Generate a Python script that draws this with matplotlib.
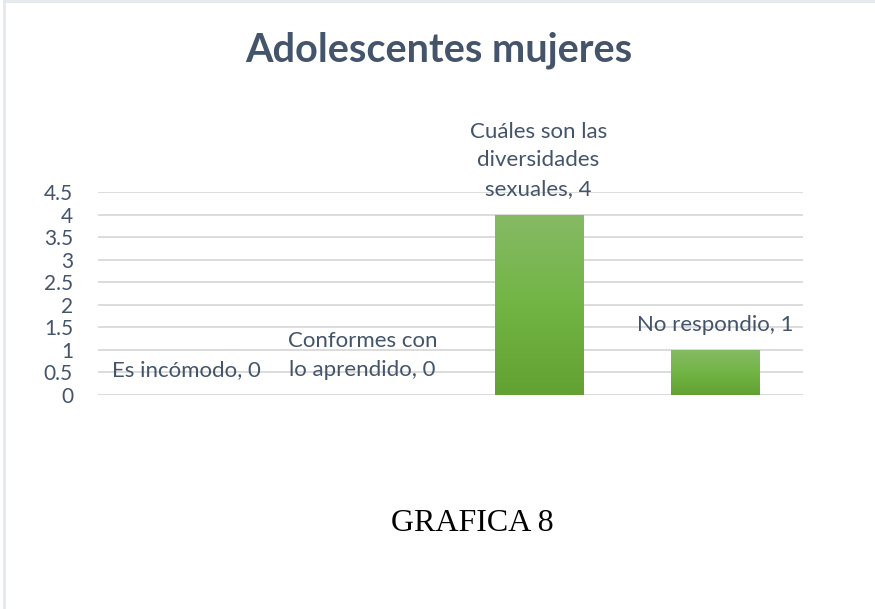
import numpy as np
import matplotlib
matplotlib.use('Agg')
import matplotlib.pyplot as plt
from matplotlib.lines import Line2D

TITLE = 'Adolescentes mujeres'
CAPTION = 'GRAFICA 8'
categories = ['Es incómodo', 'Conformes con\nlo aprendido', 'Cuáles son las\ndiversidades\nsexuales', 'No respondio']
values = [0, 0, 4, 1]
yticks = [0, 0.5, 1, 1.5, 2, 2.5, 3, 3.5, 4, 4.5]

TEXT_COLOR = '#44546A'
GRID_COLOR = '#D9D9D9'
FONT = 'Lato'

plt.rcParams['font.family'] = [FONT, 'DejaVu Sans']

fig = plt.figure(figsize=(8.75, 6.09), dpi=100)
ax = fig.add_axes([0.112, 0.3514, 0.8057, 0.3333])

x = np.arange(len(categories))
bars = ax.bar(x, values, width=0.5, color='#70AD47', zorder=2)

# vertical gradient inside each bar
grad = np.linspace(0, 1, 256).reshape(-1, 1)
cmap = matplotlib.colors.LinearSegmentedColormap.from_list('g', ['#62A132', '#72B545', '#86BA65'])
for b in bars:
    if b.get_height() <= 0:
        continue
    im = ax.imshow(grad, cmap=cmap, aspect='auto', origin='lower', zorder=3,
                   extent=(b.get_x(), b.get_x() + b.get_width(), 0, b.get_height()))
    im.set_clip_path(b)

ax.set_xlim(-0.5, len(categories) - 0.5)
ax.set_ylim(0, 4.5)
ax.set_yticks(yticks)
ax.set_yticklabels([f'{t:g}' for t in yticks])
ax.grid(axis='y', color=GRID_COLOR, lw=1.3, zorder=0)
ax.set_axisbelow(True)
ax.set_xticks([])
ax.tick_params(axis='y', length=0, pad=18, labelsize=15, labelcolor=TEXT_COLOR)
for s in ax.spines.values():
    s.set_visible(False)

for xi, cat, v in zip(x, categories, values):
    ax.annotate(f'{cat}, {v}', (xi, v), xytext=(0, 11), textcoords='offset points',
                ha='center', va='bottom', fontsize=16, color=TEXT_COLOR,
                linespacing=1.55, zorder=4)

fig.text(0.502, 0.918, TITLE, ha='center', va='center', fontsize=28.5,
         fontweight='bold', color=TEXT_COLOR)
fig.text(0.540, 0.141, CAPTION, ha='center', va='center', fontsize=23,
         family='Liberation Serif', color='black')

# chart frame: only left and top edges visible
fig.add_artist(Line2D([0.004, 0.004], [0, 0.999], transform=fig.transFigure, color='#E3E8EE', lw=2))
fig.add_artist(Line2D([0.004, 1], [0.999, 0.999], transform=fig.transFigure, color='#E3E8EE', lw=2))

fig.savefig('out.png', dpi=100)
